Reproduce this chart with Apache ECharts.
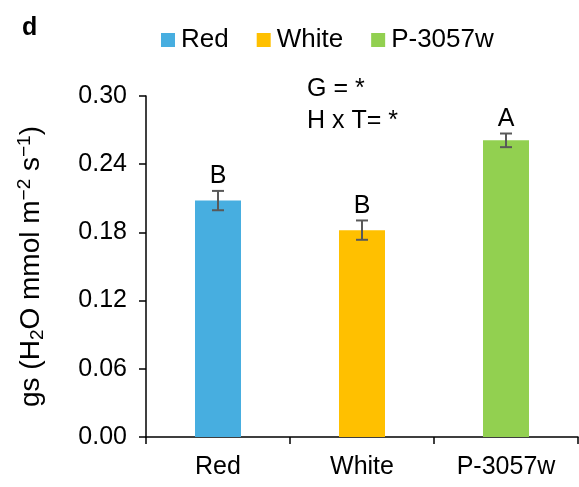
<!DOCTYPE html>
<html>
<head>
<meta charset="utf-8">
<script src="https://cdn.jsdelivr.net/npm/echarts@6/dist/echarts.min.js"></script>
<style>
  html, body { margin: 0; padding: 0; background: #fff; }
  #chart { width: 579px; height: 487px; }
</style>
</head>
<body>
<div id="chart"></div>
<script>
// data
var categories = ['Red', 'White', 'P-3057w'];
var means = [0.208, 0.182, 0.261];
var errors = [0.0085, 0.0085, 0.006];
var letters = ['B', 'B', 'A'];
var colors = ['#47AEE0', '#FFC000', '#92D050'];

var FONT = 'Liberation Sans, Arial, sans-serif';
var FS = 25;

var chart = echarts.init(document.getElementById('chart'));

var barSeries = categories.map(function (name, i) {
  return {
    name: name,
    type: 'bar',
    barWidth: 46,
    barGap: '-100%',
    itemStyle: { color: colors[i] },
    data: means.map(function (v, j) { return j === i ? v : null; }),
    z: 2
  };
});

var errSeries = {
  type: 'custom',
  name: 'err',
  z: 5,
  data: means.map(function (m, i) { return [i, m - errors[i], m + errors[i]]; }),
  renderItem: function (params, api) {
    var i = api.value(0);
    var lo = api.coord([i, api.value(1)]);
    var hi = api.coord([i, api.value(2)]);
    var half = 6;
    var st = { stroke: '#595959', lineWidth: 2 };
    return {
      type: 'group',
      children: [
        { type: 'line', shape: { x1: lo[0], y1: lo[1], x2: hi[0], y2: hi[1] }, style: st },
        { type: 'line', shape: { x1: lo[0] - half, y1: lo[1], x2: lo[0] + half, y2: lo[1] }, style: st },
        { type: 'line', shape: { x1: hi[0] - half, y1: hi[1], x2: hi[0] + half, y2: hi[1] }, style: st },
        {
          type: 'text',
          style: {
            text: letters[params.dataIndex],
            x: hi[0], y: hi[1] - 2,
            textAlign: 'center', textVerticalAlign: 'bottom',
            font: FS + 'px ' + FONT, fill: '#000'
          }
        }
      ]
    };
  }
};

chart.setOption({
  animation: false,
  textStyle: { fontFamily: FONT },
  title: {
    text: 'd',
    left: 17, top: 11,
    textStyle: { fontSize: FS, fontWeight: 'bold', color: '#000', fontFamily: FONT }
  },
  legend: {
    data: categories,
    left: 156, top: 22,
    itemWidth: 14, itemHeight: 14,
    itemGap: 28,
    icon: 'rect',
    textStyle: { fontSize: 26, color: '#000', fontFamily: FONT, padding: [0, 0, 0, 1] }
  },
  grid: { left: 146, right: 1, top: 96, bottom: 50 },
  xAxis: {
    type: 'category',
    data: categories,
    axisLine: { lineStyle: { color: '#000', width: 1.5 } },
    axisTick: { show: true, length: 7, lineStyle: { color: '#000', width: 1.5 } },
    axisLabel: { fontSize: FS, color: '#000', margin: 18, fontFamily: FONT }
  },
  yAxis: {
    type: 'value',
    min: 0, max: 0.30, interval: 0.06,
    name: '{a|gs (H}{s|2}{a|O mmol m}{p|−2}{a| s}{p|−1}{a|)}',
    nameLocation: 'middle',
    nameRotate: 90,
    nameGap: 99,
    nameTextStyle: {
      rich: {
        a: { fontSize: 28, color: '#000', fontFamily: FONT },
        s: { fontSize: 19, color: '#000', fontFamily: FONT, verticalAlign: 'bottom', padding: [13, 0, 0, 0] },
        p: { fontSize: 19, color: '#000', fontFamily: FONT, verticalAlign: 'top', padding: [0, 0, 13, 0] }
      }
    },
    axisLine: { show: true, lineStyle: { color: '#000', width: 1.5 } },
    axisTick: { show: true, length: 7, lineStyle: { color: '#000', width: 1.5 } },
    splitLine: { show: false },
    axisLabel: {
      fontSize: FS, color: '#000', margin: 19, fontFamily: FONT,
      formatter: function (v) { return v.toFixed(2); }
    }
  },
  graphic: [
    { type: 'text', left: 307, top: 77, style: { text: 'G = *', font: FS + 'px ' + FONT, fill: '#000' } },
    { type: 'text', left: 307, top: 109, style: { text: 'H x T= *', font: FS + 'px ' + FONT, fill: '#000' } }
  ],
  series: barSeries.concat([errSeries])
});
</script>
</body>
</html>
